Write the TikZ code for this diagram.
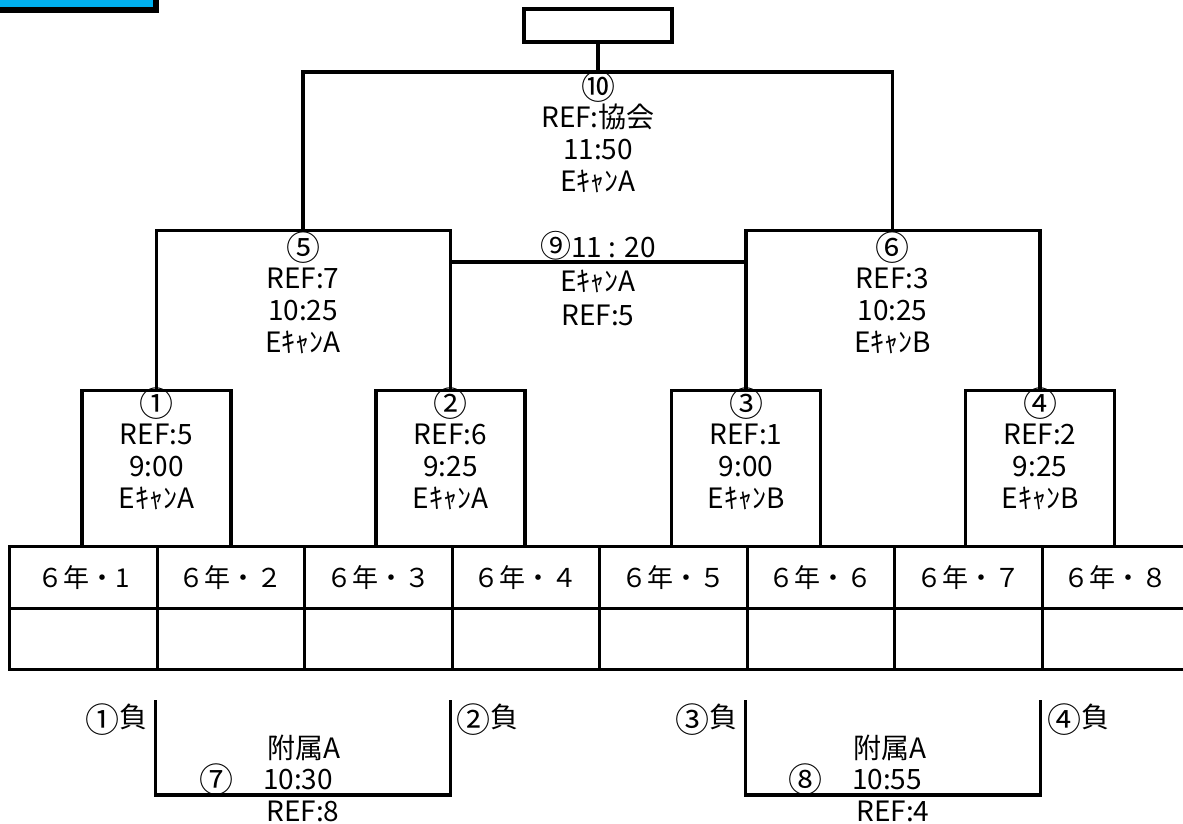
\documentclass[tikz,border=0pt]{standalone}
\usepackage{fontspec}
\setmainfont{Noto Sans CJK JP}
\definecolor{hdrcyan}{RGB}{0,176,240}
\newcommand\cnum[1]{\smash{\raisebox{-4.5pt}{\fontsize{34}{34}\selectfont #1}}\vphantom{0}}
\begin{document}
\begin{tikzpicture}[x=1pt,y=-1pt,
  ln/.style={line width=3.1pt},
  qbox/.style={draw,line width=3.1pt,inner sep=0pt,minimum width=149pt,minimum height=156pt,anchor=north},
  cell/.style={draw,line width=3.1pt,inner sep=0pt,minimum width=147.5pt,minimum height=61.5pt,anchor=north west,font=\fontsize{26}{26}\selectfont},
  lbl/.style={align=center,inner sep=0pt,font=\fontsize{28}{32}\selectfont},
  sm/.style={inner sep=0pt,font=\fontsize{28}{32}\selectfont}]
\useasboundingbox (0,0) rectangle (1183,823);
% header stub
\fill[black] (0,0) rectangle (159,13);
\fill[hdrcyan] (0,0) rectangle (153,7);
% champion box
\node[draw,line width=3.1pt,inner sep=0pt,minimum width=148pt,minimum height=33pt] (champ) at (598,25.5) {};
% quarter-final boxes
\node[qbox] (q1) at (156.5,389) {};
\node[qbox] (q2) at (450.5,389) {};
\node[qbox] (q3) at (746,389) {};
\node[qbox] (q4) at (1040,389) {};
% bracket coordinates
\coordinate (s5) at (303,230.5);
\coordinate (s6) at (892.5,230.5);
\coordinate (fin) at (598,72);
\coordinate (m9) at (598,262);
% connectors
\draw[ln] (q1.north) |- (s5) -| (q2.north);
\draw[ln] (q3.north) |- (s6) -| (q4.north);
\draw[ln] (s5) |- (fin) -| (s6);
\draw[ln] (champ.south) -- (fin);
\draw[ln] (q2.north |- m9) -- (q3.north |- m9);
% labels
\node[lbl] (t10) at (598,134) {\cnum{⑩}\\REF:協会\\11:50\\EｷｬﾝA};
\node[lbl] (t5) at (303,295) {\cnum{⑤}\\REF:7\\10:25\\EｷｬﾝA};
\node[lbl] (t6) at (892.5,295) {\cnum{⑥}\\REF:3\\10:25\\EｷｬﾝB};
\node[lbl,font=\fontsize{28}{34}\selectfont] (t9) at (598,279) {{\fontsize{31}{31}\selectfont ⑨}11 : 20\\EｷｬﾝA\\REF:5};
\node[lbl] (t1) at (156.5,451) {\cnum{①}\\REF:5\\9:00\\EｷｬﾝA};
\node[lbl] (t2) at (450.5,451) {\cnum{②}\\REF:6\\9:25\\EｷｬﾝA};
\node[lbl] (t3) at (746,451) {\cnum{③}\\REF:1\\9:00\\EｷｬﾝB};
\node[lbl] (t4) at (1040,451) {\cnum{④}\\REF:2\\9:25\\EｷｬﾝB};
% table
\foreach \i/\t in {1/６年・1,2/６年・２,3/６年・３,4/６年・４,5/６年・５,6/６年・６,7/６年・７,8/６年・８}{
  \node[cell] (a\i) at ({8+147.5*(\i-1)},545) {\t};
  \node[cell] (b\i) at ({8+147.5*(\i-1)},606.5) {};
}
% consolation brackets
\coordinate (c7L) at (155.5,700);
\coordinate (c7R) at (450.5,700);
\coordinate (m7) at (303,795);
\coordinate (c8L) at (745.5,700);
\coordinate (c8R) at (1040.5,700);
\coordinate (m8) at (893,795);
\draw[ln] (c7L) |- (m7) -| (c7R);
\draw[ln] (c8L) |- (m8) -| (c8R);
\node[sm,anchor=east] (l1) at (148,717) {\cnum{①}負};
\node[sm,anchor=west] (l2) at (456,717) {\cnum{②}負};
\node[sm,anchor=east] (l3) at (738,717) {\cnum{③}負};
\node[sm,anchor=west] (l4) at (1047,717) {\cnum{④}負};
\node[sm] (v7) at (304,748) {附属A};
\node[sm] (v8) at (890,748) {附属A};
\node[sm] (n7) at (216,778) {\cnum{⑦}};
\node[sm] (h7) at (298,780) {10:30};
\node[sm] (n8) at (805,778) {\cnum{⑧}};
\node[sm] (h8) at (887,780) {10:55};
\node[sm] (r7) at (303,811) {REF:8};
\node[sm] (r8) at (893,811) {REF:4};
\end{tikzpicture}
\end{document}
